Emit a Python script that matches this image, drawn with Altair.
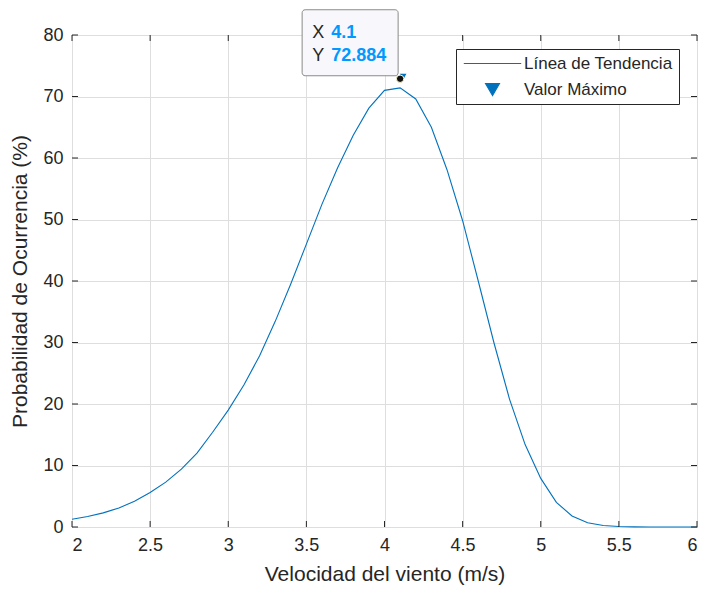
import altair as alt
import pandas as pd

velocidad = [2.0, 2.1, 2.2, 2.3, 2.4, 2.5, 2.6, 2.7, 2.8, 2.9,
             3.0, 3.1, 3.2, 3.3, 3.4, 3.5, 3.6, 3.7, 3.8, 3.9,
             4.0, 4.1, 4.2, 4.3, 4.4, 4.5, 4.6, 4.7, 4.8, 4.9,
             5.0, 5.1, 5.2, 5.3, 5.4, 5.5, 5.6, 5.7, 5.8, 5.9, 6.0]
probabilidad = [1.25, 1.7, 2.3, 3.1, 4.2, 5.6, 7.3, 9.4, 12.0, 15.4,
                19.0, 23.1, 27.8, 33.4, 39.5, 46.0, 52.5, 58.4, 63.7, 68.1,
                71.0, 71.4, 69.6, 65.0, 58.1, 49.8, 40.0, 30.0, 20.8, 13.4,
                7.9, 4.0, 1.8, 0.7, 0.25, 0.08, 0.02, 0.0, 0.0, 0.0, 0.0]
max_x = [4.1]
max_y = [72.884]
series = ["Línea de Tendencia", "Valor Máximo"]
x_ticks = [2, 2.5, 3, 3.5, 4, 4.5, 5, 5.5, 6]
y_ticks = [0, 10, 20, 30, 40, 50, 60, 70, 80]

FONT = "Liberation Sans"
TXT = "#262626"
BLUE = "#0072BD"

df = pd.DataFrame({"x": velocidad, "y": probabilidad, "serie": series[0]})
dmax = pd.DataFrame({"x": max_x, "y": max_y, "serie": series[1],
                     "lx": ["X"], "ly": ["Y"],
                     "vx": [f"{max_x[0]:g}"], "vy": [f"{max_y[0]:.3f}"]})
dxt = pd.DataFrame({"t": x_ticks})
dyt = pd.DataFrame({"t": y_ticks})

xs = alt.Scale(domain=[2, 6], nice=False, zero=False)
ys = alt.Scale(domain=[0, 80], nice=False, zero=False)

x_axis = alt.Axis(values=x_ticks, title="Velocidad del viento (m/s)", format="~g",
                  grid=True, gridColor="#dedede", gridWidth=1, domain=False, ticks=False,
                  labelFont=FONT, labelFontSize=18, labelColor=TXT, labelPadding=9,
                  titleFont=FONT, titleFontSize=21, titleFontWeight="normal", titleColor=TXT,
                  titlePadding=9)
y_axis = alt.Axis(values=y_ticks, title="Probabilidad de Ocurrencia (%)",
                  grid=True, gridColor="#dedede", gridWidth=1, domain=False, ticks=False,
                  labelFont=FONT, labelFontSize=18, labelColor=TXT, labelPadding=9,
                  titleFont=FONT, titleFontSize=21, titleFontWeight="normal", titleColor=TXT,
                  titlePadding=12)

legend = alt.Legend(
    title=None, orient="none", legendX=384, legendY=14,
    fillColor="white", strokeColor="#262626", padding=6,
    labelFont=FONT, labelFontSize=17, labelColor=TXT, labelOffset=23,
    symbolStrokeWidth=1.1, symbolOpacity=1, rowPadding=8, symbolOffset=22,
    symbolFillColor=BLUE, symbolStrokeColor=BLUE,
)

line = alt.Chart(df).mark_line(color=BLUE, strokeWidth=1.1).encode(
    x=alt.X("x:Q", scale=xs, axis=x_axis),
    y=alt.Y("y:Q", scale=ys, axis=y_axis),
)

legend_layer = alt.Chart(dmax).mark_point(filled=True, opacity=0).encode(
    x=alt.X("x:Q", scale=xs), y=alt.Y("y:Q", scale=ys),
    color=alt.Color("serie:O", scale=alt.Scale(domain=series, range=[BLUE, BLUE]), legend=legend),
    shape=alt.Shape("serie:O", scale=alt.Scale(domain=series, range=["M-4.1,0H4.1", "triangle-down"]), legend=legend),
    size=alt.Size("serie:O", scale=alt.Scale(domain=series, range=[196, 196]), legend=legend),
)

tick_b = alt.Chart(dxt).mark_rule(color=TXT, y2Offset=-6).encode(
    x=alt.X("t:Q", scale=xs), y=alt.datum(0), y2=alt.datum(0))
tick_t = alt.Chart(dxt).mark_rule(color=TXT, y2Offset=6).encode(
    x=alt.X("t:Q", scale=xs), y=alt.datum(80), y2=alt.datum(80))
tick_l = alt.Chart(dyt).mark_rule(color=TXT, x2Offset=6).encode(
    y=alt.Y("t:Q", scale=ys), x=alt.datum(2), x2=alt.datum(2))
tick_r = alt.Chart(dyt).mark_rule(color=TXT, x2Offset=-6).encode(
    y=alt.Y("t:Q", scale=ys), x=alt.datum(6), x2=alt.datum(6))

tri = alt.Chart(dmax).mark_point(shape="triangle-down", filled=True, size=45, opacity=1,
                                 color=BLUE, xOffset=3, yOffset=-2).encode(
    x=alt.X("x:Q", scale=xs), y=alt.Y("y:Q", scale=ys))
dot = alt.Chart(dmax).mark_circle(color="#111111", size=55, opacity=1,
                                  stroke="#fff8d0", strokeWidth=1).encode(
    x=alt.X("x:Q", scale=xs), y=alt.Y("y:Q", scale=ys))
box = alt.Chart(dmax).mark_rect(fill="#f8f8fc", stroke="#8a8a8a", strokeWidth=1, cornerRadius=3,
                                xOffset=-98, x2Offset=-2, yOffset=-69, y2Offset=-3).encode(
    x=alt.X("x:Q", scale=xs), x2="x:Q", y=alt.Y("y:Q", scale=ys), y2="y:Q")
lab_x = alt.Chart(dmax).mark_text(align="left", baseline="middle", font=FONT, fontSize=18,
                                  color=TXT, dx=-88, dy=-46).encode(
    x=alt.X("x:Q", scale=xs), y=alt.Y("y:Q", scale=ys), text="lx:N")
lab_y = alt.Chart(dmax).mark_text(align="left", baseline="middle", font=FONT, fontSize=18,
                                  color=TXT, dx=-88, dy=-23).encode(
    x=alt.X("x:Q", scale=xs), y=alt.Y("y:Q", scale=ys), text="ly:N")
val_x = alt.Chart(dmax).mark_text(align="left", baseline="middle", font=FONT, fontSize=18,
                                  fontWeight="bold", color="#0099FF", dx=-69, dy=-46).encode(
    x=alt.X("x:Q", scale=xs), y=alt.Y("y:Q", scale=ys), text="vx:N")
val_y = alt.Chart(dmax).mark_text(align="left", baseline="middle", font=FONT, fontSize=18,
                                  fontWeight="bold", color="#0099FF", dx=-69, dy=-23).encode(
    x=alt.X("x:Q", scale=xs), y=alt.Y("y:Q", scale=ys), text="vy:N")

chart = alt.layer(line, legend_layer, tick_b, tick_t, tick_l, tick_r, tri, dot, box,
                  lab_x, lab_y, val_x, val_y).properties(
    width=625, height=492,
    autosize=alt.AutoSizeParams(type="none"),
    padding={"left": 72, "top": 35, "right": 6, "bottom": 65},
    background="white",
).configure_view(stroke=TXT, strokeWidth=1)

chart.save("out.html", embed_options={"renderer": "svg", "actions": False})
